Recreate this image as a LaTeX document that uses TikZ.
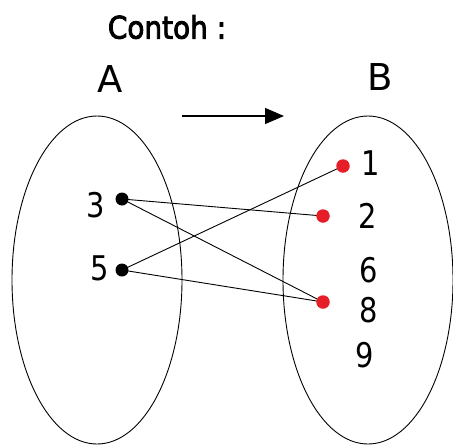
\documentclass[tikz,border=0pt]{standalone}
\usepackage{fontspec}
\setmainfont{DejaVu Sans}
\newfontfamily\ttlfont[FakeBold=3]{DejaVu Sans}
\usetikzlibrary{arrows.meta,backgrounds}
\definecolor{dotred}{RGB}{230,30,40}
\begin{document}
\begin{tikzpicture}[x=1pt,y=-1pt,
  lbl/.style={inner sep=0pt, font=\fontsize{34}{34}\selectfont},
  setlbl/.style={inner sep=0pt, font=\fontsize{37}{37}\selectfont},
  ttl/.style={inner sep=0pt, font=\ttlfont\fontsize{31}{31}\selectfont},
  setline/.style={line width=0.9pt},
  bdot/.style={circle,fill=black,inner sep=0pt,minimum size=13pt},
  rdot/.style={circle,fill=dotred,inner sep=0pt,minimum size=13.5pt},
  link/.style={line width=0.9pt}]
\useasboundingbox (0,0) rectangle (453,445);
\node[ttl] (title) at (167,27) {\scalebox{0.9}[1]{Contoh :}};
\node[setlbl] (A) at (110,79) {A};
\node[setlbl] (B) at (380,77) {B};
\draw[setline] (97,280) ellipse [x radius=85, y radius=164];
\draw[setline] (368,280) ellipse [x radius=85, y radius=164];
\coordinate (a1) at (182,116);
\coordinate (a2) at (284,116);
\draw[line width=1.3pt,-{Triangle[length=19pt,width=16pt]}] (a1) -- (a2);
\node[lbl] (n3) at (96,205) {\scalebox{0.85}[1]{3}};
\node[lbl] (n5) at (100,268) {\scalebox{0.85}[1]{5}};
\node[lbl] (m1) at (371,163) {\scalebox{0.85}[1]{1}};
\node[lbl] (m2) at (368,216) {\scalebox{0.85}[1]{2}};
\node[lbl] (m6) at (369,270) {\scalebox{0.85}[1]{6}};
\node[lbl] (m8) at (369,310) {\scalebox{0.85}[1]{8}};
\node[lbl] (m9) at (365,355) {\scalebox{0.85}[1]{9}};
\node[bdot] (d3) at (122,199) {};
\node[bdot] (d5) at (122,270) {};
\node[rdot] (r1) at (343,166) {};
\node[rdot] (r2) at (323,216) {};
\node[rdot] (r8) at (323,302) {};
\begin{pgfonlayer}{background}
\draw[link] (d3.center) -- (r2.center);
\draw[link] (d3.center) -- (r8.center);
\draw[link] (d5.center) -- (r1.center);
\draw[link] (d5.center) -- (r8.center);
\end{pgfonlayer}
\end{tikzpicture}
\end{document}
